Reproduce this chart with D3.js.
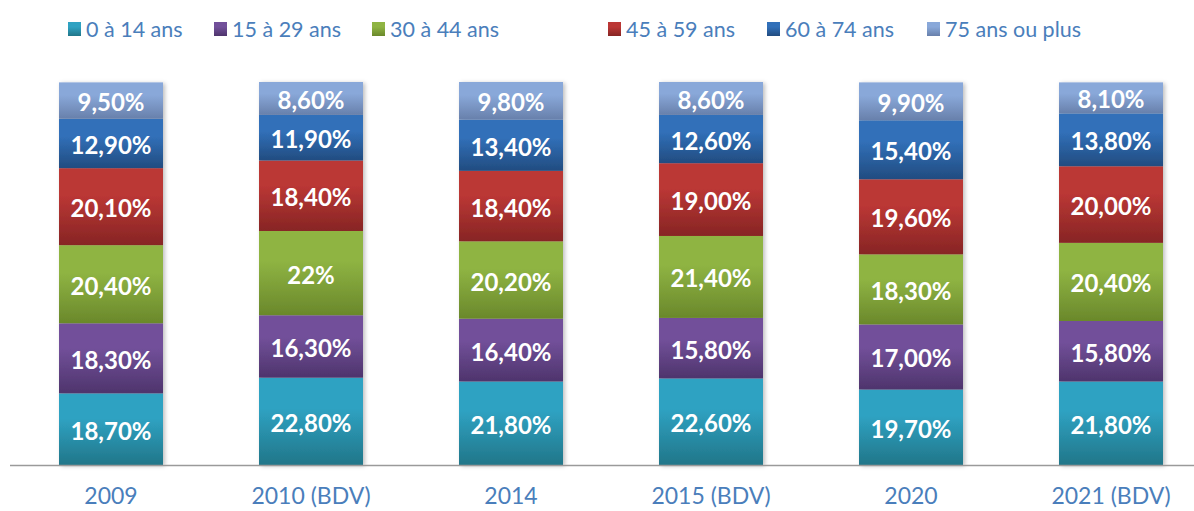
<!DOCTYPE html>
<html>
<head>
<meta charset="utf-8">
<script src="https://cdn.jsdelivr.net/npm/d3@7"></script>
<style>
  body { margin: 0; background: #fff; }
  .legend text, .xlab { font-family: Lato, "Open Sans", sans-serif; fill: #4a7ebb; font-size: 21.5px; }
  .xlab { font-size: 23px; }
  .val { font-family: Lato, "Open Sans", sans-serif; font-weight: bold; fill: #fff; font-size: 24px; }
</style>
</head>
<body>
<div id="chart"></div>
<script>
var years = ["2009", "2010 (BDV)", "2014", "2015 (BDV)", "2020", "2021 (BDV)"];
var groups = ["0 à 14 ans", "15 à 29 ans", "30 à 44 ans", "45 à 59 ans", "60 à 74 ans", "75 ans ou plus"];
var v0_14  = [18.7, 22.8, 21.8, 22.6, 19.7, 21.8];
var v15_29 = [18.3, 16.3, 16.4, 15.8, 17.0, 15.8];
var v30_44 = [20.4, 22.0, 20.2, 21.4, 18.3, 20.4];
var v45_59 = [20.1, 18.4, 18.4, 19.0, 19.6, 20.0];
var v60_74 = [12.9, 11.9, 13.4, 12.6, 15.4, 13.8];
var v75    = [9.5, 8.6, 9.8, 8.6, 9.9, 8.1];
var labels = [
  ["18,70%", "22,80%", "21,80%", "22,60%", "19,70%", "21,80%"],
  ["18,30%", "16,30%", "16,40%", "15,80%", "17,00%", "15,80%"],
  ["20,40%", "22%", "20,20%", "21,40%", "18,30%", "20,40%"],
  ["20,10%", "18,40%", "18,40%", "19,00%", "19,60%", "20,00%"],
  ["12,90%", "11,90%", "13,40%", "12,60%", "15,40%", "13,80%"],
  ["9,50%", "8,60%", "9,80%", "8,60%", "9,90%", "8,10%"]
];
var series = [v0_14, v15_29, v30_44, v45_59, v60_74, v75];
var colTop = ["#2fa2c2", "#72509a", "#8fb443", "#bb3735", "#3170b9", "#89a8d9"];
var colBot = ["#217689", "#4e346c", "#6a882b", "#872524", "#224c80", "#6880ab"];

var width = 1194, height = 511;
var svg = d3.select("#chart").append("svg").attr("width", width).attr("height", height);

var x = d3.scaleBand().domain(years).range([11, 1211]).paddingInner(0.48).paddingOuter(0.24);
var y = d3.scaleLinear().domain([0, 100]).range([465, 82]);

var defs = svg.append("defs");
colTop.forEach(function(c, i) {
  var g = defs.append("linearGradient").attr("id", "g" + i)
    .attr("x1", 0).attr("y1", 0).attr("x2", 0).attr("y2", 1);
  g.append("stop").attr("offset", "0%").attr("stop-color", c);
  g.append("stop").attr("offset", "35%").attr("stop-color", c);
  g.append("stop").attr("offset", "100%").attr("stop-color", colBot[i]);
});
var f = defs.append("filter").attr("id", "sh").attr("x", "-10%").attr("y", "-10%").attr("width", "130%").attr("height", "120%");
f.append("feDropShadow").attr("dx", 2).attr("dy", 1).attr("stdDeviation", 2).attr("flood-color", "#000").attr("flood-opacity", 0.25);

var stackData = years.map(function(yr, j) {
  var o = { year: yr };
  groups.forEach(function(g, i) { o[g] = series[i][j]; });
  return o;
});
var stacked = d3.stack().keys(groups)(stackData);

var bars = svg.append("g").attr("filter", "url(#sh)");
stacked.forEach(function(s, i) {
  bars.selectAll(".s" + i).data(s).enter().append("rect")
    .attr("x", function(d) { return x(d.data.year); })
    .attr("width", x.bandwidth())
    .attr("y", function(d) { return y(d[1]); })
    .attr("height", function(d) { return y(d[0]) - y(d[1]); })
    .attr("fill", "url(#g" + i + ")");
});

stacked.forEach(function(s, i) {
  svg.selectAll(".t" + i).data(s).enter().append("text")
    .attr("class", "val")
    .attr("text-anchor", "middle")
    .attr("dominant-baseline", "central")
    .attr("x", function(d) { return x(d.data.year) + x.bandwidth() / 2; })
    .attr("y", function(d) { return (y(d[0]) + y(d[1])) / 2 + 1; })
    .text(function(d, j) { return labels[i][j]; });
});

// baseline axis
var xAxis = d3.axisBottom(x).tickSize(0).tickPadding(23);
var ax = svg.append("g").attr("transform", "translate(0,465)").call(xAxis);
ax.select(".domain").remove();
ax.selectAll("text").attr("class", "xlab").attr("fill", null).style("font-size", null).style("font-family", null);
ax.attr("font-size", null).attr("font-family", null);
svg.append("line").attr("x1", 10).attr("x2", 1194).attr("y1", 465.5).attr("y2", 465.5)
  .attr("stroke", "#9a9a9a").attr("stroke-width", 1.5);

// legend
var legX = [68, 214, 372, 608, 767, 927];
var leg = svg.append("g").attr("class", "legend");
groups.forEach(function(g, i) {
  var it = leg.append("g").attr("transform", "translate(" + legX[i] + ",0)");
  it.append("rect").attr("x", 0).attr("y", 22).attr("width", 13).attr("height", 14).attr("fill", "url(#g" + i + ")");
  it.append("text").attr("x", 18).attr("y", 29).attr("dominant-baseline", "central").text(g);
});
</script>
</body>
</html>
